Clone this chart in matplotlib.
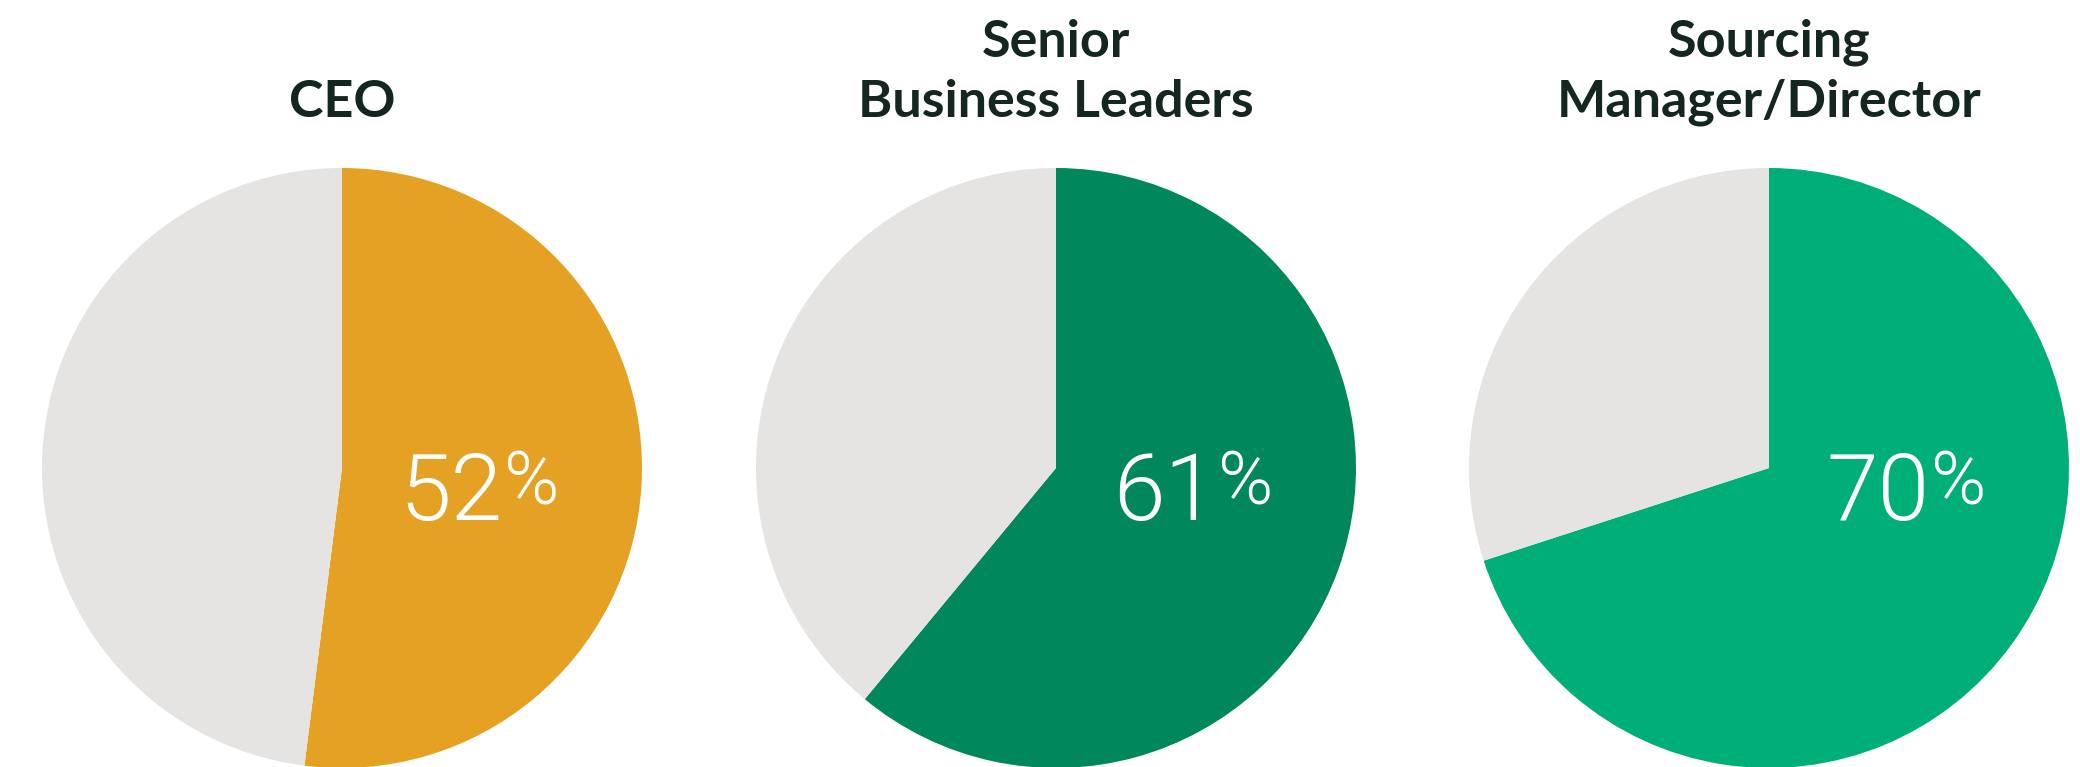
import matplotlib
matplotlib.use("Agg")
import matplotlib.pyplot as plt

# Share of respondents in each role
roles = ["CEO", "Senior Business Leaders", "Sourcing Manager/Director"]
title_lines = [["CEO"], ["Senior", "Business Leaders"], ["Sourcing", "Manager/Director"]]
shares = [52, 61, 70]
colors = ["#E5A124", "#00875B", "#00AF78"]
rest_color = "#E5E4E2"
title_color = "#13261F"

W, H = 2080, 767
fig = plt.figure(figsize=(W / 100, H / 100), dpi=100)
ax = fig.add_axes([0, 0, 1, 1])

centers_x = [342, 1056, 1769]
center_y = H - 468
radius = 300

for cx, lines, share, color in zip(centers_x, title_lines, shares, colors):
    ax.pie(
        [share, 100 - share],
        colors=[color, rest_color],
        startangle=90,
        counterclock=False,
        radius=radius,
        center=(cx, center_y),
        wedgeprops=dict(linewidth=0),
        frame=True,
    )
    # value label inside the coloured wedge, with a smaller raised percent sign
    num = ax.text(cx + 57, center_y - 52, f"{share}", color="white",
                  fontsize=67, fontfamily="Roboto", fontweight=300,
                  ha="left", va="baseline")
    ax.annotate("%", xy=(1.02, 1.02), xycoords=num, color="white",
                fontsize=54, fontfamily="Roboto", fontweight=300,
                ha="left", va="top")
    # title, stacked upward from the last line
    base = H - 117
    for i, line in enumerate(reversed(lines)):
        ax.text(cx, base + i * 60, line, color=title_color, fontsize=37.5,
                fontfamily="Lato", fontweight="bold", ha="center", va="baseline")

ax.set_xlim(0, W)
ax.set_ylim(0, H)
ax.set_aspect("auto")
ax.axis("off")
fig.savefig("out.png", dpi=100, facecolor="white")
